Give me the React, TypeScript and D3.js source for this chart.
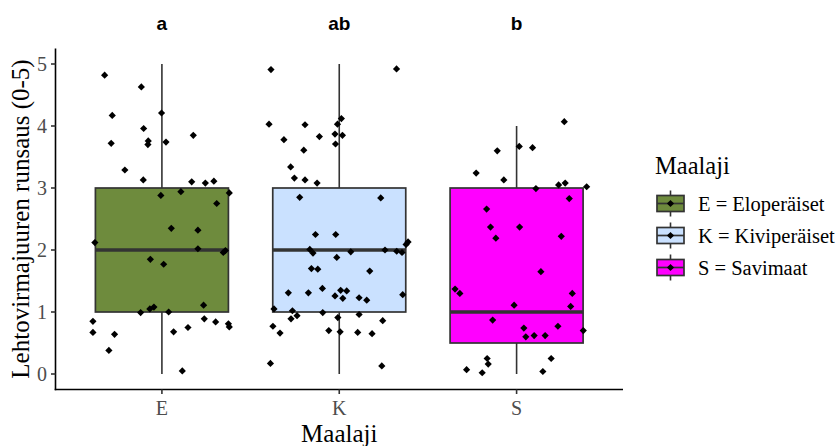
import React from "react";
import * as d3 from "d3";

const categories = ["E", "K", "S"];
const fills = ["#6E8B3D", "#CAE1FF", "#FF00FF"];
const legendLabels = ["E = Eloperäiset", "K = Kiviperäiset", "S = Savimaat"];
const groupLetters = ["a", "ab", "b"];
const yTicks = [0, 1, 2, 3, 4, 5];

const q1 = [1, 1, 0.5];
const medians = [2, 2, 1];
const q3 = [3, 3, 3];
const whiskerLow = [0, 0, 0];
const whiskerHigh = [5, 5, 4];

// jittered points: [x offset in category steps, value]
const pointsE: [number, number][] = [
  [-0.323, 4.82], [-0.116, 4.63], [-0.002, 4.21], [-0.28, 4.17], [-0.103, 3.96],
  [-0.077, 3.76], [-0.079, 3.7], [-0.286, 3.72], [0.023, 3.74], [0.177, 3.85],
  [-0.209, 3.29], [-0.105, 3.13], [0.168, 3.1], [0.245, 3.08], [0.293, 3.11],
  [0.38, 2.92], [0.107, 2.94], [-0.006, 2.88], [0.309, 2.75], [0.053, 2.35],
  [0.203, 2.32], [-0.378, 2.12], [0.203, 2.02], [0.346, 1.96], [0.358, 1.99],
  [-0.065, 1.85], [0.01, 1.77], [0.235, 1.11], [-0.12, 0.99], [-0.068, 1.05],
  [-0.045, 1.08], [0.038, 1.0], [-0.389, 0.85], [0.239, 0.89], [0.303, 0.84],
  [0.375, 0.81], [0.38, 0.76], [0.147, 0.75], [-0.389, 0.67], [-0.267, 0.64],
  [0.066, 0.68], [-0.299, 0.38], [0.115, 0.05],
];
const pointsK: [number, number][] = [
  [-0.385, 4.91], [0.323, 4.92], [-0.396, 4.03], [-0.193, 4.02], [0.012, 4.12],
  [-0.01, 4.03], [-0.312, 3.78], [-0.112, 3.83], [-0.024, 3.87], [0.018, 3.85],
  [-0.021, 3.71], [-0.2, 3.61], [-0.274, 3.34], [-0.253, 3.16], [-0.193, 3.13],
  [-0.125, 3.08], [-0.223, 2.85], [0.234, 2.84], [-0.134, 2.25], [-0.02, 2.25],
  [0.388, 2.13], [0.377, 2.09], [-0.166, 2.01], [-0.148, 1.95], [0.065, 1.97],
  [0.258, 2.0], [0.324, 1.98], [0.354, 1.96], [-0.014, 1.88], [-0.157, 1.7],
  [-0.121, 1.69], [0.172, 1.66], [-0.287, 1.31], [-0.174, 1.31], [-0.095, 1.38],
  [0.008, 1.35], [0.042, 1.34], [-0.024, 1.26], [0.02, 1.22], [0.112, 1.23],
  [0.155, 1.19], [0.358, 1.28], [-0.368, 1.05], [-0.264, 1.02], [-0.238, 0.94],
  [-0.272, 0.89], [-0.093, 0.99], [-0.008, 0.91], [0.112, 0.96], [0.245, 0.86],
  [-0.374, 0.77], [-0.334, 0.66], [-0.059, 0.7], [0.005, 0.68], [0.104, 0.67],
  [0.185, 0.65], [-0.388, 0.17], [0.24, 0.13],
];
const pointsS: [number, number][] = [
  [0.269, 4.07], [0.015, 3.67], [0.09, 3.65], [-0.109, 3.6], [-0.228, 3.24],
  [-0.072, 3.13], [0.237, 3.05], [0.274, 3.08], [0.109, 2.99], [0.395, 3.02],
  [0.297, 2.83], [-0.169, 2.66], [-0.147, 2.37], [0.017, 2.37], [-0.117, 2.19],
  [0.252, 2.22], [0.137, 1.65], [-0.347, 1.37], [-0.32, 1.3], [0.314, 1.3],
  [0.305, 1.09], [-0.014, 1.11], [-0.135, 0.87], [0.041, 0.74], [0.233, 0.77],
  [0.376, 0.7], [0.052, 0.6], [0.099, 0.62], [0.161, 0.62], [-0.166, 0.25],
  [-0.16, 0.16], [0.195, 0.25], [-0.282, 0.07], [-0.194, 0.02], [0.148, 0.04],
];
const allPoints = [pointsE, pointsK, pointsS];

const W = 838;
const H = 446;
const SERIF = "'Liberation Serif', 'Times New Roman', serif";
const SANS = "'Liberation Sans', Arial, sans-serif";
const LINE = "#333333";

function Diamond({ cx, cy, r }: { cx: number; cy: number; r: number }) {
  return (
    <path
      d={`M${cx},${cy - r}L${cx + r},${cy}L${cx},${cy + r}L${cx - r},${cy}Z`}
      fill="#000"
    />
  );
}

export default function App() {
  const panelLeft = 55.5;
  const panelRight = 623;
  const panelTop = 48.5;
  const panelBottom = 389.5;

  const x = d3.scalePoint<string>().domain(categories).range([panelLeft, panelRight]).padding(0.6);
  const step = x.step();
  const y = d3.scaleLinear().domain([-0.25, 5.25]).range([panelBottom, panelTop]);
  const boxW = step * 0.75;

  return (
    <svg
      width={W}
      height={H}
      style={{ position: "absolute", left: 0, top: 0, background: "#fff" }}
    >
      <rect x={0} y={0} width={W} height={H} fill="#fff" />
      {/* boxes */}
      {categories.map((c, i) => {
        const cx = x(c)!;
        return (
          <g key={c}>
            <line x1={cx} x2={cx} y1={y(q3[i])} y2={y(whiskerHigh[i])} stroke={LINE} strokeWidth={1.6} />
            <line x1={cx} x2={cx} y1={y(q1[i])} y2={y(whiskerLow[i])} stroke={LINE} strokeWidth={1.6} />
            <rect
              x={cx - boxW / 2}
              y={y(q3[i])}
              width={boxW}
              height={y(q1[i]) - y(q3[i])}
              fill={fills[i]}
              stroke={LINE}
              strokeWidth={1.7}
            />
            <line
              x1={cx - boxW / 2}
              x2={cx + boxW / 2}
              y1={y(medians[i])}
              y2={y(medians[i])}
              stroke={LINE}
              strokeWidth={3.4}
            />
          </g>
        );
      })}
      {/* points */}
      {allPoints.map((pts, i) =>
        pts.map(([off, v], j) => (
          <Diamond key={`${i}-${j}`} cx={x(categories[i])! + off * step} cy={y(v)} r={3.6} />
        ))
      )}
      {/* axes */}
      <line x1={panelLeft} x2={panelLeft} y1={panelTop} y2={panelBottom + 0.8} stroke="#000" strokeWidth={1.6} />
      <line x1={panelLeft - 0.8} x2={panelRight} y1={panelBottom} y2={panelBottom} stroke="#000" strokeWidth={1.6} />
      {yTicks.map((t) => (
        <g key={t}>
          <line x1={panelLeft - 4.5} x2={panelLeft} y1={y(t)} y2={y(t)} stroke={LINE} strokeWidth={1.6} />
          <text
            x={panelLeft - 8.5}
            y={y(t)}
            dy="0.35em"
            textAnchor="end"
            fontFamily={SERIF}
            fontSize={20}
            fill="#4D4D4D"
          >
            {t}
          </text>
        </g>
      ))}
      {categories.map((c) => (
        <g key={c}>
          <line x1={x(c)!} x2={x(c)!} y1={panelBottom} y2={panelBottom + 4.5} stroke={LINE} strokeWidth={1.6} />
          <text
            x={x(c)!}
            y={415}
            textAnchor="middle"
            fontFamily={SERIF}
            fontSize={20}
            fill="#4D4D4D"
          >
            {c}
          </text>
        </g>
      ))}
      <text
        x={(panelLeft + panelRight) / 2}
        y={442}
        textAnchor="middle"
        fontFamily={SERIF}
        fontSize={25}
        fill="#000"
      >
        Maalaji
      </text>
      <text
        transform={`translate(28.5,${(panelTop + panelBottom) / 2}) rotate(-90)`}
        textAnchor="middle"
        fontFamily={SERIF}
        fontSize={25}
        fill="#000"
      >
        Lehtovirmajuuren runsaus (0-5)
      </text>
      {/* group letters */}
      {categories.map((c, i) => (
        <text
          key={c}
          x={x(c)!}
          y={30}
          textAnchor="middle"
          fontFamily={SANS}
          fontWeight="bold"
          fontSize={19}
          fill="#000"
        >
          {groupLetters[i]}
        </text>
      ))}
      {/* legend */}
      <text x={655} y={174} fontFamily={SERIF} fontSize={24.5} fill="#000">
        Maalaji
      </text>
      {categories.map((c, i) => {
        const cy = 203.5 + i * 32;
        const kx = 670.5;
        return (
          <g key={c}>
            <line x1={kx} x2={kx} y1={cy - 13} y2={cy + 13} stroke={LINE} strokeWidth={1.6} />
            <rect x={kx - 13.5} y={cy - 8} width={27} height={16} fill={fills[i]} stroke={LINE} strokeWidth={1.7} />
            <line x1={kx - 13.5} x2={kx + 13.5} y1={cy} y2={cy} stroke={LINE} strokeWidth={1.7} />
            <Diamond cx={kx} cy={cy} r={3.6} />
            <text x={698} y={cy + 7.3} fontFamily={SERIF} fontSize={20.5} fill="#000">
              {legendLabels[i]}
            </text>
          </g>
        );
      })}
    </svg>
  );
}
